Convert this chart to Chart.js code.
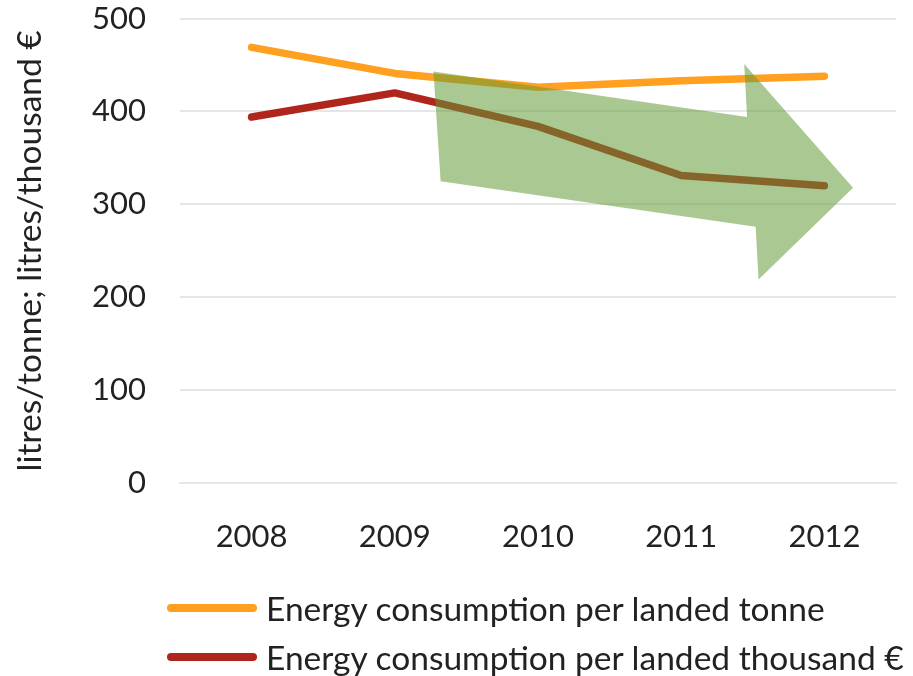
<!DOCTYPE html>
<html>
<head>
<meta charset="utf-8">
<script src="https://cdn.jsdelivr.net/npm/chart.js@4"></script>
<style>
  html, body { margin: 0; padding: 0; background: #fff; }
  #wrap { position: relative; width: 913px; height: 676px; }
  #legend { position: absolute; left: 167px; top: 583px; font-family: Lato, sans-serif; font-size: 33.5px; color: #222; }
  .row { display: flex; align-items: center; height: 49px; }
  .swatch { width: 90px; height: 8px; border-radius: 4px; margin-right: 9px; }
</style>
</head>
<body>
<div id="wrap">
  <canvas id="chart" width="913" height="676"></canvas>
  <div id="legend"></div>
</div>
<script>
// datos
const years = ['2008', '2009', '2010', '2011', '2012'];
const perTonne = [469, 441, 426, 433, 438];
const perThousand = [394, 420, 384, 331, 320];
const seriesNames = ['Energy consumption per landed tonne', 'Energy consumption per landed thousand €'];
const yTicks = [0, 100, 200, 300, 400, 500];

const font = 'Lato';

// flecha verde (en coordenadas de datos: indice de categoria, valor)
const arrowPlugin = {
  id: 'arrow',
  afterDatasetsDraw(chart) {
    const x = chart.scales.x, y = chart.scales.y;
    const pts = [[1.27, 443], [3.46, 394], [3.44, 451], [4.2, 318], [3.54, 219], [3.52, 276], [1.32, 325]];
    const ctx = chart.ctx;
    ctx.save();
    ctx.beginPath();
    pts.forEach((p, i) => {
      const px = x.getPixelForValue(p[0]), py = y.getPixelForValue(p[1]);
      if (i === 0) ctx.moveTo(px, py); else ctx.lineTo(px, py);
    });
    ctx.closePath();
    ctx.fillStyle = 'rgba(100,155,55,0.55)';
    ctx.fill();
    ctx.restore();
  }
};

const chart = new Chart(document.getElementById('chart').getContext('2d'), {
  type: 'line',
  data: {
    labels: years,
    datasets: [
      { label: seriesNames[0], data: perTonne, borderColor: '#FFA020', backgroundColor: '#FFA020' },
      { label: seriesNames[1], data: perThousand, borderColor: '#B0251C', backgroundColor: '#B0251C' },
    ],
  },
  options: {
    responsive: false,
    animation: false,
    layout: { padding: { top: 0, right: 17, bottom: 100, left: 0 } },
    elements: {
      line: { borderWidth: 7.5, tension: 0, borderCapStyle: 'round', borderJoinStyle: 'round', fill: false },
      point: { radius: 0, hoverRadius: 0 },
    },
    plugins: {
      legend: { display: false },
      tooltip: { enabled: false },
    },
    scales: {
      x: {
        offset: true,
        grid: { display: false, drawTicks: false },
        border: { display: true, color: '#e6e6e6', width: 2 },
        ticks: { padding: 35, color: '#222', font: { family: font, size: 31 } },
        afterFit(s) { s.height = 93; },
      },
      y: {
        min: 0,
        max: 500,
        afterBuildTicks(s) { s.ticks = yTicks.map(v => ({ value: v })); },
        grid: { color: '#e6e6e6', lineWidth: 2, drawTicks: true, tickLength: 34, tickColor: 'rgba(0,0,0,0)' },
        border: { display: false },
        ticks: { padding: 0, color: '#222', font: { family: font, size: 31 } },
        title: {
          display: true,
          text: 'litres/tonne; litres/thousand €',
          color: '#222',
          font: { family: font, size: 33.5 },
          padding: { top: 10, bottom: 0 },
        },
        afterFit(s) { s.width = 180; },
      },
    },
  },
  plugins: [arrowPlugin],
});

// leyenda
const legend = document.getElementById('legend');
chart.data.datasets.forEach(ds => {
  const row = document.createElement('div');
  row.className = 'row';
  row.innerHTML = `<span class="swatch" style="background:${ds.borderColor}"></span><span>${ds.label}</span>`;
  legend.appendChild(row);
});
</script>
</body>
</html>
